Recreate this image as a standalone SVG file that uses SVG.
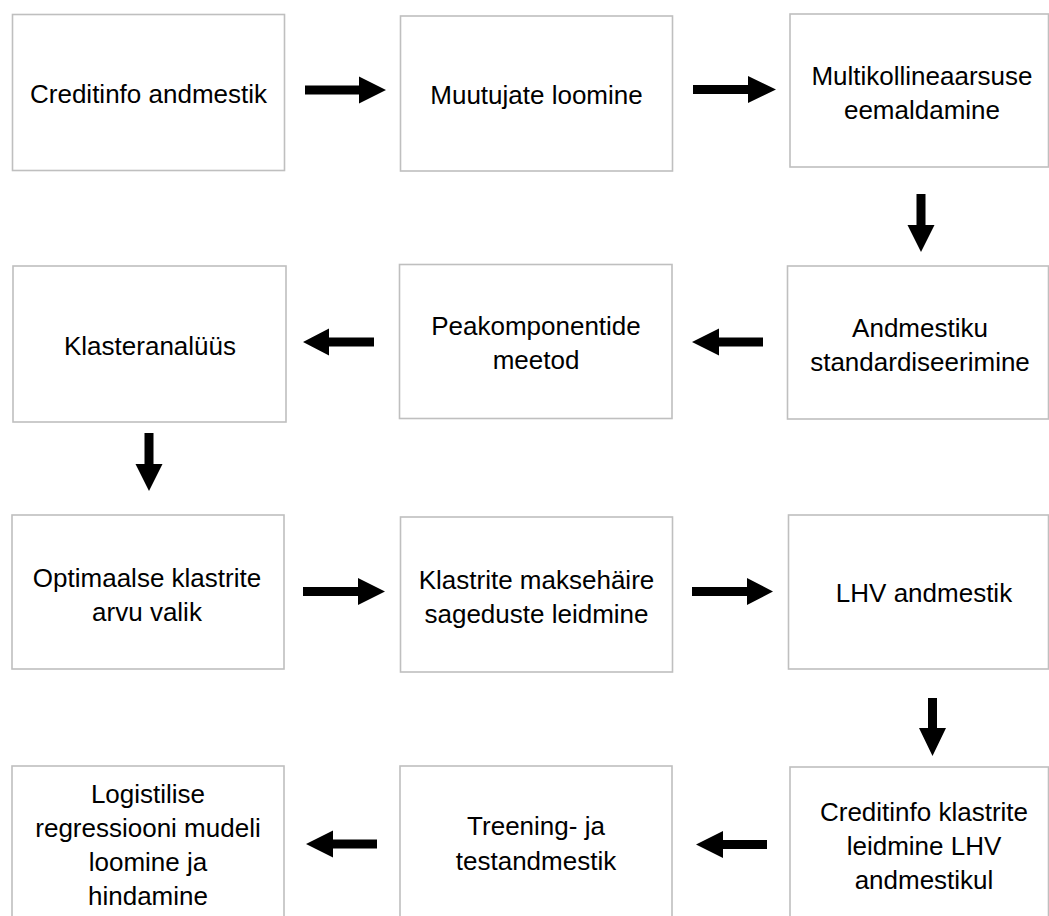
<svg xmlns="http://www.w3.org/2000/svg" width="1049" height="916" viewBox="0 0 1049 916">
<style>
.box{fill:#ffffff;stroke:#bfbfbf;stroke-width:1.6}
.lbl{font-family:"Liberation Sans",Arial,sans-serif;font-size:26px;fill:#000000;text-anchor:middle}
.arr{fill:#000000;stroke:none}
</style>
<rect width="1049" height="916" fill="#ffffff"/>
<g id="n1"><rect class="box" x="12.5" y="14.5" width="272" height="156"/><text class="lbl"><tspan x="148.5" y="103">Creditinfo andmestik</tspan></text></g>
<g id="n2"><rect class="box" x="400.5" y="16" width="272" height="155"/><text class="lbl"><tspan x="536.5" y="104">Muutujate loomine</tspan></text></g>
<g id="n3"><rect class="box" x="790" y="14" width="258.5" height="153"/><text class="lbl"><tspan x="922" y="85">Multikollineaarsuse</tspan><tspan x="922" y="119">eemaldamine</tspan></text></g>
<g id="n4"><rect class="box" x="13" y="266" width="273" height="156"/><text class="lbl"><tspan x="150" y="355">Klasteranalüüs</tspan></text></g>
<g id="n5"><rect class="box" x="399.5" y="264.5" width="272.5" height="154"/><text class="lbl"><tspan x="536" y="335">Peakomponentide</tspan><tspan x="536" y="369">meetod</tspan></text></g>
<g id="n6"><rect class="box" x="787.5" y="266" width="261" height="153"/><text class="lbl"><tspan x="920" y="337">Andmestiku</tspan><tspan x="920" y="371">standardiseerimine</tspan></text></g>
<g id="n7"><rect class="box" x="12" y="515" width="272" height="154"/><text class="lbl"><tspan x="147" y="587">Optimaalse klastrite</tspan><tspan x="147" y="621">arvu valik</tspan></text></g>
<g id="n8"><rect class="box" x="400.5" y="517" width="272" height="155"/><text class="lbl"><tspan x="536.5" y="589">Klastrite maksehäire</tspan><tspan x="536.5" y="623">sageduste leidmine</tspan></text></g>
<g id="n9"><rect class="box" x="788.5" y="515" width="260" height="154"/><text class="lbl"><tspan x="924" y="602">LHV andmestik</tspan></text></g>
<g id="n10"><rect class="box" x="12" y="766" width="272" height="160"/><text class="lbl"><tspan x="148" y="803">Logistilise</tspan><tspan x="148" y="837">regressiooni mudeli</tspan><tspan x="148" y="871">loomine ja</tspan><tspan x="148" y="905">hindamine</tspan></text></g>
<g id="n11"><rect class="box" x="400" y="766" width="272" height="160"/><text class="lbl"><tspan x="536" y="835">Treening- ja</tspan><tspan x="536" y="870">testandmestik</tspan></text></g>
<g id="n12"><rect class="box" x="790" y="767" width="258.5" height="160"/><text class="lbl"><tspan x="924" y="821">Creditinfo klastrite</tspan><tspan x="924" y="855">leidmine LHV</tspan><tspan x="924" y="889">andmestikul</tspan></text></g>
<g id="connectors">
<polygon class="arr" points="305,85.5 359,85.5 359,76.5 386,90 359,103.5 359,94.5 305,94.5"/>
<polygon class="arr" points="693,85 748,85 748,76 776,89.5 748,103 748,94 693,94"/>
<polygon class="arr" points="916.5,194 925.5,194 925.5,225 934.5,225 921,252 907.5,225 916.5,225"/>
<polygon class="arr" points="763,337.5 719,337.5 719,328.5 692,342 719,355.5 719,346.5 763,346.5"/>
<polygon class="arr" points="374,337.5 329,337.5 329,328.5 303,342 329,355.5 329,346.5 374,346.5"/>
<polygon class="arr" points="144.5,433 153.5,433 153.5,464 162.5,464 149,491 135.5,464 144.5,464"/>
<polygon class="arr" points="303,587 358,587 358,578 385,591.5 358,605 358,596 303,596"/>
<polygon class="arr" points="692,587 747,587 747,578 773,591.5 747,605 747,596 692,596"/>
<polygon class="arr" points="928,698 937,698 937,728 946,728 932.5,756 919,728 928,728"/>
<polygon class="arr" points="767,840 723,840 723,831 696,844.5 723,858 723,849 767,849"/>
<polygon class="arr" points="377,839.5 333,839.5 333,830.5 306,844 333,857.5 333,848.5 377,848.5"/>
</g>
</svg>
